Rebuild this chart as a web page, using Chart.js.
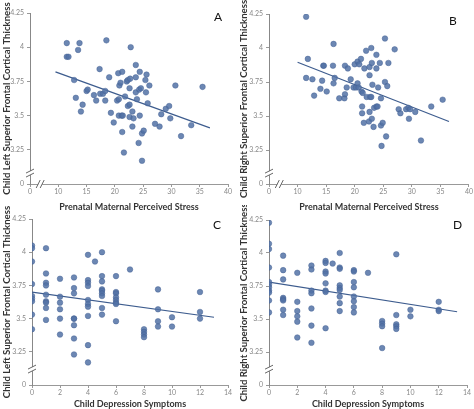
<!DOCTYPE html>
<html>
<head>
<meta charset="utf-8">
<script src="https://cdn.jsdelivr.net/npm/chart.js@4.4.1/dist/chart.umd.min.js"></script>
<style>
  body { margin: 0; background: #fff; }
  #wrap { position: relative; width: 474px; height: 409px; overflow: hidden; }
  canvas { position: absolute; }
  .tag { position: absolute; font: 12px Lato, "Open Sans", sans-serif; color: #111; }
</style>
</head>
<body>
<div id="wrap">
  <canvas id="chartA" width="237" height="212" style="left:0;top:0"></canvas>
  <canvas id="chartB" width="237" height="212" style="left:237px;top:0"></canvas>
  <canvas id="chartC" width="237" height="204" style="left:0;top:205px"></canvas>
  <canvas id="chartD" width="237" height="204" style="left:237px;top:205px"></canvas>
  <div class="tag" style="left:214px;top:9px">A</div>
  <div class="tag" style="left:449px;top:13px">B</div>
  <div class="tag" style="left:213px;top:217px">C</div>
  <div class="tag" style="left:453px;top:217px">D</div>
</div>
<script>
// panel A: prenatal stress vs left thickness
const stressA = [11.5,13.75,18.5,22.8,11.5,11.8,13.5,12.8,13.1,14.3,14.0,15.0,15.2,17.3,16.3,16.7,17.4,17.9,18.3,18.3,
  19.0,19.3,19.8,20.4,20.7,20.6,21.3,20.8,21.0,20.7,21.2,21.4,21.3,21.6,21.8,22.1,22.3,22.7,22.3,22.6,
  22.6,23.1,22.6,23.3,23.1,23.7,23.7,23.7,23.9,24.4,24.3,24.6,24.2,24.4,24.8,25.1,24.8,25.4,25.6,25.5,
  26.1,25.8,27.1,27.9,28.2,29.0,29.6,29.8,30.7,31.7,33.5,35.5];
const thickA = [4.03,4.03,4.05,4.0,3.93,3.93,3.98,3.76,3.63,3.58,3.53,3.68,3.69,3.84,3.65,3.61,3.66,3.66,3.68,3.61,
  3.78,3.52,3.45,3.61,3.62,3.81,3.82,3.72,3.74,3.50,3.50,3.50,3.38,3.23,3.64,3.75,3.76,3.77,3.57,3.58,
  3.70,3.53,3.49,3.48,3.42,3.87,3.78,3.67,3.62,3.82,3.69,3.70,3.30,3.50,3.37,3.39,3.17,3.76,3.80,3.67,
  3.72,3.59,3.44,3.42,3.51,3.55,3.57,3.48,3.72,3.35,3.43,3.71];
const fitAx = [9.5, 36.8];
const fitAy = [3.82, 3.41];

// panel B: prenatal stress vs right thickness
const stressB = [11.5,11.8,16.3,11.5,12.6,12.9,14.5,14.6,16.2,18.3,18.8,20.0,14.0,14.3,15.1,16.3,16.5,17.3,18.2,18.3,
  18.6,19.3,19.8,20.2,20.5,20.7,20.5,20.8,21.1,21.2,21.4,21.7,22.0,22.1,22.6,23.0,22.6,22.9,22.7,22.9,
  21.3,21.3,21.6,22.5,23.0,22.6,23.3,23.1,23.4,23.8,24.0,23.8,23.8,24.1,24.4,24.6,24.6,24.9,24.7,25.3,
  25.3,25.7,25.5,25.9,27.0,27.7,28.0,29.0,29.4,29.7,29.5,30.6,31.6,33.4,35.4];
const thickB = [4.23,3.92,4.03,3.78,3.77,3.65,3.87,3.87,3.87,3.87,3.85,3.88,3.70,3.76,3.68,3.74,3.78,3.63,3.63,3.66,
  3.71,3.77,3.71,3.71,3.74,3.71,3.90,3.88,3.92,3.68,3.67,3.85,3.98,3.64,3.86,3.89,3.80,4.00,3.64,3.64,
  3.57,3.52,3.45,3.46,3.48,3.53,3.42,3.73,3.56,3.57,3.57,3.95,3.85,3.71,3.89,3.63,3.43,3.45,3.28,4.07,
  3.75,3.72,3.35,3.89,3.99,3.55,3.52,3.55,3.56,3.55,3.48,3.53,3.32,3.57,3.62];
const fitBx = [10.0, 36.5];
const fitBy = [3.895, 3.46];

// panel C: child depression vs left thickness
const deprC = [0,0,0,0,0,0,0,0,0, 1,1,1,1,1,1,1,1,1, 2,2,2,2,2,2, 3,3,3,3,3,3,3,3,
  4,4,4,4,4,4,4,4,4,4, 4.5, 5,5,5,5,5,5,5,5,5, 6,6,6,6,6,6,6,6, 7, 8,8,8,8, 9,9,9,9, 10,10, 12,12,12];
const thickC = [4.05,4.03,3.93,3.76,3.67,3.65,3.63,3.53,3.42, 4.03,3.84,3.77,3.75,3.68,3.63,3.62,3.58,3.49,
  3.80,3.665,3.62,3.57,3.50,3.38, 3.81,3.73,3.69,3.50,3.50,3.45,3.35,3.23,
  3.98,3.79,3.77,3.745,3.64,3.61,3.59,3.52,3.30,3.17, 3.93, 4.0,3.82,3.78,3.72,3.71,3.69,3.67,3.58,3.53,
  3.82,3.70,3.69,3.66,3.64,3.62,3.61,3.48, 3.87, 3.42,3.40,3.38,3.36, 3.72,3.57,3.48,3.44, 3.51,3.44, 3.70,3.55,3.50];
const fitCx = [0, 13];
const fitCy = [3.70, 3.51];

// panel D: child depression vs right thickness
const deprD = [0,0,0,0,0,0,0,0,0,0,0, 1,1,1,1,1,1,1,1, 2,2,2,2,2,2, 3,3,3,3,3,3,3,
  4,4,4,4,4,4,4,4, 4.5, 5,5,5,5,5,5,5,5,5, 6,6,6,6,6,6,6,6, 7, 8,8,8,8, 9,9,9,9,9, 10,10, 12,12,12];
const thickD = [4.23,4.07,4.03,3.89,3.78,3.76,3.74,3.715,3.70,3.64,3.55, 3.98,3.87,3.80,3.66,3.65,3.64,3.57,3.53,
  3.85,3.63,3.56,3.52,3.48,3.36, 3.905,3.875,3.715,3.695,3.58,3.45,3.32,
  3.94,3.925,3.86,3.845,3.77,3.715,3.705,3.43, 3.92, 4.0,3.89,3.88,3.755,3.735,3.72,3.67,3.62,3.56,
  3.87,3.86,3.78,3.74,3.67,3.635,3.59,3.55, 3.85, 3.485,3.465,3.445,3.28, 3.99,3.53,3.46,3.445,3.425, 3.57,3.52, 3.63,3.57,3.56];
const fitDx = [0, 13.3];
const fitDy = [3.78, 3.555];

const yTicks = [3, 3.25, 3.5, 3.75, 4, 4.25];   // 3 is shown as "0" (broken axis)
const fam = 'Lato, "Open Sans", sans-serif';

// little "//" marks where the axes are broken
const breakMarks = {
  id: 'breakMarks',
  afterDraw(chart, args, opts) {
    const ctx = chart.ctx, a = chart.chartArea;
    ctx.save();
    ctx.strokeStyle = '#666';
    ctx.lineWidth = 1;
    const yb = chart.scales.y.getPixelForValue(opts.yAt);
    ctx.fillStyle = '#fff';
    ctx.fillRect(a.left - 2, yb - 2, 4, 4);
    [-2, 2].forEach(d => {
      ctx.beginPath();
      ctx.moveTo(a.left - 4, yb + d + 2);
      ctx.lineTo(a.left + 4, yb + d - 2);
      ctx.stroke();
    });
    if (opts.xAt != null) {
      const xb = chart.scales.x.getPixelForValue(opts.xAt);
      ctx.fillRect(xb - 2, a.bottom - 2, 4, 4);
      [-2, 2].forEach(d => {
        ctx.beginPath();
        ctx.moveTo(xb + d - 2, a.bottom + 4);
        ctx.lineTo(xb + d + 2, a.bottom - 4);
        ctx.stroke();
      });
    }
    ctx.restore();
  }
};

function makePanel(id, xs, ys, fx, fy, o) {
  const pts = xs.map((x, i) => ({ x: x, y: ys[i] }));
  const fit = fx.map((x, i) => ({ x: x, y: fy[i] }));
  return new Chart(document.getElementById(id), {
    type: 'scatter',
    data: {
      datasets: [
        { data: pts, pointRadius: 2.8, backgroundColor: 'rgba(82,114,166,0.85)', borderColor: 'rgba(66,96,146,0.9)', borderWidth: 0.5 },
        { type: 'line', data: fit, borderColor: '#3d5c8e', borderWidth: 1.2, pointRadius: 0, fill: false }
      ]
    },
    options: {
      responsive: false,
      animation: false,
      layout: { padding: { top: o.top, right: o.right, left: 0, bottom: 0 } },
      plugins: { legend: { display: false }, tooltip: { enabled: false }, breakMarks: { yAt: o.yBreak, xAt: o.xBreak } },
      scales: {
        x: {
          type: 'linear', min: o.xMin, max: o.xMax,
          afterFit(s) { s.height = o.xH; },
          ticks: { stepSize: o.xStep, autoSkip: false, maxRotation: 0, padding: 1, color: '#888',
                   font: { family: fam, size: 7 },
                   callback: v => (v === o.xMin ? '0' : String(v)) },
          grid: { drawOnChartArea: false, tickLength: 3, color: '#999' },
          border: { color: '#999' },
          title: { display: true, text: o.xTitle, color: '#333', padding: { top: o.xTitlePad, bottom: 0 },
                   font: { family: fam, size: 9, weight: 'bold' } }
        },
        y: {
          min: 3, max: 4.25,
          afterFit(s) { s.width = o.yW; },
          afterBuildTicks(s) { s.ticks = yTicks.map(v => ({ value: v })); },
          ticks: { padding: 3, color: '#888', font: { family: fam, size: 7 },
                   callback: v => (v === 3 ? '0' : String(v)) },
          grid: { drawOnChartArea: false, tickLength: 3, color: '#999' },
          border: { color: '#888' },
          title: { display: true, text: o.yTitle, color: '#333', padding: { top: 1, bottom: 0 },
                   font: { family: fam, size: 9.6, weight: 'bold' } }
        }
      }
    },
    plugins: [breakMarks]
  });
}

makePanel('chartA', stressA, thickA, fitAx, fitAy, {
  top: 13, right: 9, yW: 30, xH: 28, xMin: 5, xMax: 40, xStep: 5, xTitlePad: 0, yBreak: 3.08, xBreak: 6.8,
  xTitle: 'Prenatal Maternal Perceived Stress', yTitle: 'Child Left Superior Frontal Cortical Thickness' });
makePanel('chartB', stressB, thickB, fitBx, fitBy, {
  top: 14, right: 5, yW: 32, xH: 28, xMin: 5, xMax: 40, xStep: 5, xTitlePad: 0, yBreak: 3.08, xBreak: 6.8,
  xTitle: 'Prenatal Maternal Perceived Stress', yTitle: 'Child Right Superior Frontal Cortical Thickness' });
makePanel('chartC', deprC, thickC, fitCx, fitCy, {
  top: 14, right: 9, yW: 32, xH: 24, xMin: 0, xMax: 14, xStep: 2, xTitlePad: 2, yBreak: 3.12, xBreak: null,
  xTitle: 'Child Depression Symptoms', yTitle: 'Child Left Superior Frontal Cortical Thickness' });
makePanel('chartD', deprD, thickD, fitDx, fitDy, {
  top: 15, right: 7, yW: 32, xH: 24, xMin: 0, xMax: 14, xStep: 2, xTitlePad: 2, yBreak: 3.12, xBreak: null,
  xTitle: 'Child Depression Symptoms', yTitle: 'Child Right Superior Frontal Cortical Thickness' });
</script>
</body>
</html>
